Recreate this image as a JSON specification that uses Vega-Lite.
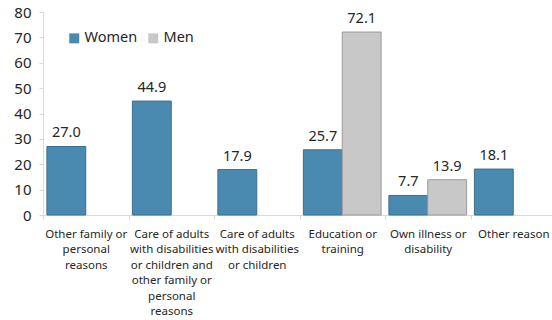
{
  "$schema": "https://vega.github.io/schema/vega-lite/v6.json",
  "width": 513,
  "height": 203,
  "autosize": {"type": "none"},
  "padding": {"left": 43, "top": 12, "right": 0, "bottom": 105},
  "background": "white",
  "config": {
    "font": "Noto Sans",
    "view": {"stroke": null}
  },
  "data": {
    "values": [
      {"reason": "Other family or|personal|reasons", "sex": "Women", "value": 27.0},
      {"reason": "Care of adults|with disabilities|or children and|other family or|personal|reasons", "sex": "Women", "value": 44.9},
      {"reason": "Care of adults|with disabilities|or children", "sex": "Women", "value": 17.9},
      {"reason": "Education or|training", "sex": "Women", "value": 25.7},
      {"reason": "Education or|training", "sex": "Men", "value": 72.1},
      {"reason": "Own illness or|disability", "sex": "Women", "value": 7.7},
      {"reason": "Own illness or|disability", "sex": "Men", "value": 13.9},
      {"reason": "Other reason", "sex": "Women", "value": 18.1}
    ]
  },
  "encoding": {
    "x": {
      "field": "reason",
      "type": "nominal",
      "sort": null,
      "scale": {"paddingInner": 0, "paddingOuter": 0},
      "axis": {
        "title": null,
        "labelAngle": 0,
        "labelExpr": "isString(datum.value) ? split(datum.value, '|') : ''",
        "labelFontSize": 11.5,
        "labelColor": "#262626",
        "labelLineHeight": 15.5,
        "labelPadding": 9,
        "labelBaseline": "top",
        "domainColor": "#d9d9d9",
        "tickColor": "#d9d9d9",
        "tickBand": "extent",
        "tickSize": 4,
        "labelLimit": 200
      }
    },
    "xOffset": {
      "field": "sex",
      "type": "nominal",
      "scale": {"domain": ["Women", "Men"], "paddingOuter": 0.1, "paddingInner": 0}
    },
    "y": {
      "field": "value",
      "type": "quantitative",
      "scale": {"domain": [0, 80], "nice": false},
      "axis": {
        "title": null,
        "values": [0, 10, 20, 30, 40, 50, 60, 70, 80],
        "grid": false,
        "labelFontSize": 15,
        "labelColor": "#262626",
        "labelPadding": 8,
        "domainColor": "#d9d9d9",
        "tickColor": "#d9d9d9",
        "tickSize": 4
      }
    }
  },
  "layer": [
    {
      "mark": {"type": "bar", "strokeWidth": 1},
      "encoding": {
        "color": {
          "field": "sex",
          "type": "nominal",
          "scale": {"domain": ["Women", "Men"], "range": ["#4a8ab0", "#c8c8c8"]},
          "legend": {
            "title": null,
            "orient": "none",
            "legendX": 24,
            "legendY": 19,
            "direction": "horizontal",
            "symbolType": "square",
            "symbolSize": 100,
            "symbolStrokeWidth": 0,
            "labelFontSize": 14.5,
            "labelColor": "#262626",
            "columnPadding": 8,
            "labelOffset": 3
          }
        },
        "stroke": {
          "field": "sex",
          "type": "nominal",
          "scale": {"domain": ["Women", "Men"], "range": ["#3c6f8e", "#9a9a9a"]},
          "legend": null
        }
      }
    },
    {
      "mark": {"type": "text", "baseline": "bottom", "dy": -6, "fontSize": 14.5, "color": "#262626"},
      "encoding": {
        "text": {"field": "value", "type": "quantitative", "format": ".1f"}
      }
    }
  ]
}
